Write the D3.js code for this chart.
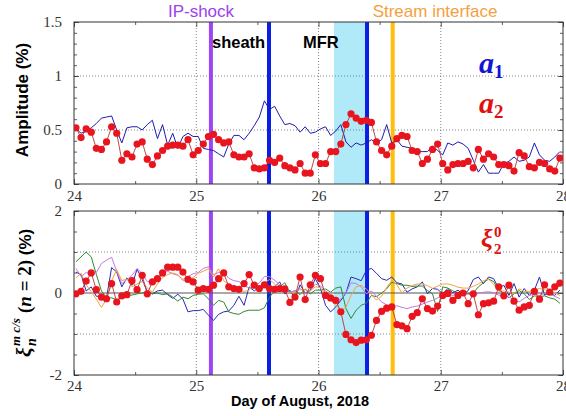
<!DOCTYPE html>
<html>
<head>
<meta charset="utf-8">
<script src="https://cdn.jsdelivr.net/npm/d3@7"></script>
<style>
  body { margin: 0; background: #fff; }
  svg { display: block; }
</style>
</head>
<body>
<div id="chart-area"></div>
<script>
// hourly samples, Aug 24 - Aug 28 2018
var hours = d3.range(96).map(function(i){ return 24.016 + i / 24; });

var a1 = [0.51,0.47,0.49,0.52,0.56,0.61,0.62,0.63,0.50,0.38,
          0.52,0.53,0.53,0.50,0.55,0.59,0.42,0.55,0.36,0.47,
          0.33,0.44,0.47,0.44,0.44,0.33,0.32,0.31,0.28,0.25,
          0.37,0.45,0.45,0.41,0.47,0.54,0.62,0.77,0.69,0.72,
          0.63,0.55,0.56,0.54,0.48,0.53,0.47,0.48,0.51,0.53,
          0.45,0.49,0.55,0.39,0.34,0.38,0.36,0.38,0.41,0.38,
          0.41,0.55,0.38,0.41,0.35,0.34,0.33,0.30,0.30,0.30,
          0.35,0.31,0.27,0.38,0.36,0.39,0.37,0.33,0.22,0.11,
          0.18,0.10,0.10,0.10,0.19,0.21,0.25,0.21,0.22,0.25,
          0.38,0.27,0.22,0.21,0.25,0.30];

var a2 = [0.52,0.43,0.51,0.48,0.33,0.32,0.39,0.53,0.47,0.22,
          0.28,0.25,0.37,0.39,0.23,0.18,0.26,0.31,0.35,0.36,
          0.36,0.35,0.41,0.27,0.31,0.37,0.44,0.46,0.41,0.38,
          0.39,0.27,0.25,0.25,0.28,0.15,0.14,0.15,0.22,0.20,
          0.24,0.17,0.15,0.13,0.19,0.10,0.10,0.27,0.19,0.19,
          0.30,0.30,0.37,0.55,0.65,0.61,0.58,0.59,0.57,0.39,
          0.31,0.27,0.35,0.42,0.45,0.44,0.31,0.30,0.19,0.23,
          0.32,0.37,0.19,0.13,0.18,0.19,0.19,0.21,0.15,0.32,
          0.23,0.28,0.25,0.18,0.18,0.17,0.12,0.29,0.26,0.16,
          0.15,0.20,0.19,0.14,0.12,0.24];

var xi20 = [-0.02,0.04,0.29,0.49,0.08,-0.10,-0.14,0.23,-0.22,-0.07,
            -0.04,0.30,0.08,0.43,-0.02,0.27,0.35,0.49,0.63,0.63,
            0.63,0.51,0.33,0.27,0.07,0.11,0.09,0.19,0.35,0.49,
            0.15,0.11,0.09,0.23,0.45,0.19,0.11,0.20,0.11,0.09,
            0.11,0.10,-0.23,-0.10,0.39,-0.16,0.20,0.43,0.35,-0.06,
            -0.12,-0.18,-0.46,-1.01,-1.14,-1.21,-1.15,-1.14,-1.03,-0.67,
            -0.45,-0.37,-0.34,-0.77,-0.80,-0.87,-0.57,-0.48,-0.14,-0.38,
            -0.44,-0.32,-0.06,-0.01,-0.18,-0.06,0.00,-0.26,-0.02,-0.53,
            -0.26,-0.24,-0.20,0.15,-0.07,0.19,-0.20,-0.42,-0.34,-0.30,
            0.04,-0.15,0.20,0.02,0.15,0.24];

var xiBlue = [0.51,0.45,0.05,0.15,-0.08,-0.08,-0.12,0.62,0.51,0.15,
              0.37,0.19,0.58,0.33,0.03,-0.02,0.05,0.07,-0.04,-0.13,
              -0.03,-0.15,-0.46,-0.43,-0.43,-0.40,-0.54,-0.67,-0.52,-0.46,
              -0.44,-0.30,-0.08,-0.30,0.15,0.05,0.15,0.20,0.05,0.15,
              0.27,-0.02,0.07,-0.14,0.20,0.00,0.07,0.35,0.11,-0.30,
              -0.46,-0.34,-0.18,0.00,0.39,0.35,0.30,0.55,0.60,0.48,
              0.35,0.31,0.39,0.25,0.22,0.02,0.10,0.15,0.27,-0.02,
              0.11,0.09,-0.02,0.11,0.00,0.07,-0.04,0.06,0.33,0.39,
              0.23,0.39,0.35,0.11,0.19,-0.06,0.23,-0.10,0.11,-0.06,
              0.07,0.39,-0.05,0.00,-0.06,0.07];

var xiGreen = [0.76,0.88,1.00,0.88,0.45,0.05,-0.12,-0.12,-0.16,-0.12,
               -0.06,-0.05,-0.02,0.00,0.02,-0.02,0.00,-0.04,-0.02,-0.10,
               -0.20,-0.10,-0.14,-0.06,-0.03,-0.02,-0.14,-0.30,-0.18,-0.22,
               -0.46,-0.50,-0.52,-0.45,-0.42,-0.42,-0.42,-0.36,-0.10,0.05,
               0.15,0.25,0.00,0.06,-0.04,0.10,-0.02,0.07,0.07,0.10,
               0.02,0.12,0.15,-0.38,-0.62,-0.42,-0.30,-0.25,-0.06,-0.09,
               0.00,0.10,0.26,0.23,0.19,0.19,0.16,0.17,0.17,0.06,
               -0.02,-0.45,0.15,0.12,0.05,-0.01,-0.02,-0.01,0.00,0.15,
               0.25,0.34,0.28,0.06,0.00,-0.12,-0.02,0.06,-0.02,-0.16,
               -0.07,-0.09,-0.07,-0.12,-0.15,-0.25];

var xiPurple = [0.60,0.40,0.50,0.45,0.50,0.72,0.80,0.87,0.53,0.23,
                0.33,0.43,0.60,0.47,0.28,0.28,0.32,0.48,0.53,0.47,
                0.43,0.33,0.40,0.47,0.50,0.60,0.64,0.45,0.50,0.50,
                0.36,0.30,0.28,0.18,0.12,0.15,0.25,0.40,0.40,0.31,
                0.20,0.12,0.02,0.05,0.11,0.01,0.05,0.22,0.17,0.05,
                -0.05,-0.22,-0.15,0.00,0.25,0.23,0.15,-0.02,0.05,-0.08,
                -0.22,-0.29,-0.34,-0.31,-0.35,-0.38,-0.34,-0.32,-0.27,-0.22,
                -0.18,-0.12,-0.06,-0.03,-0.06,-0.01,-0.01,-0.03,-0.06,-0.01,
                0.02,0.03,0.01,-0.05,-0.06,-0.10,-0.16,-0.22,-0.13,-0.06,
                -0.03,-0.06,-0.01,-0.03,-0.08,-0.14];

var xiOrange = [0.37,0.48,0.20,0.03,-0.15,-0.35,-0.15,0.30,0.57,0.30,
                0.34,0.15,0.22,0.28,0.12,0.02,0.22,0.38,0.45,0.49,
                0.45,0.30,0.30,0.38,0.48,0.53,0.59,0.39,0.59,0.30,
                0.20,0.05,0.05,0.04,0.07,0.19,0.15,0.25,0.33,0.22,
                0.10,0.04,0.00,0.02,0.08,0.08,0.05,0.15,0.13,-0.05,
                -0.18,-0.30,-0.42,-0.35,-0.06,0.15,0.19,0.10,-0.04,-0.17,
                -0.08,0.14,0.30,0.20,0.00,0.12,0.18,0.22,0.22,0.18,
                0.11,0.17,0.22,0.22,0.19,0.14,0.12,0.12,0.16,0.22,
                0.30,0.34,0.21,0.04,0.05,0.02,-0.01,0.10,0.04,0.04,
                0.08,0.11,0.08,0.04,0.01,-0.06];

var dayTicks = [24, 25, 26, 27, 28];
var ampTicks = [0, 0.5, 1, 1.5];
var xiTicks = [-2, 0, 2];

// event times (day of August)
var ipShock = 25.12;
var sheathEnd = 25.595;
var mfrSpan = [26.127, 26.397];
var streamInterface = 26.607;

var serif = "'Liberation Serif','DejaVu Serif',serif";
var sans = "'Liberation Sans',Arial,sans-serif";

var svg = d3.select("#chart-area").append("svg")
            .attr("width", 566)
            .attr("height", 416);

var x = d3.scaleLinear().domain([24, 28]).range([74, 563]);
var yTop = d3.scaleLinear().domain([0, 1.5]).range([184, 22]);
var yBot = d3.scaleLinear().domain([-2, 2]).range([375, 211]);

function panel(id, y, yTicks, yGrid, yMinorStep, xPad) {
  var x0 = x.range()[0], x1 = x.range()[1];
  var yb = y.range()[0], yt = y.range()[1];
  var g = svg.append("g");

  svg.append("clipPath").attr("id", id)
     .append("rect").attr("x", x0).attr("y", yt).attr("width", x1 - x0).attr("height", yb - yt);

  // MFR shading
  g.append("rect")
   .attr("x", x(mfrSpan[0])).attr("y", yt)
   .attr("width", x(mfrSpan[1]) - x(mfrSpan[0])).attr("height", yb - yt)
   .attr("fill", "#b0e9f8");

  // grid
  g.selectAll(".vg").data([25, 26, 27]).enter().append("line")
   .attr("x1", function(d){ return x(d); }).attr("x2", function(d){ return x(d); })
   .attr("y1", yt).attr("y2", yb)
   .attr("stroke", "#666").attr("stroke-width", 0.8).attr("stroke-dasharray", "1,2");
  g.selectAll(".hg").data(yGrid).enter().append("line")
   .attr("x1", x0).attr("x2", x1)
   .attr("y1", function(d){ return y(d); }).attr("y2", function(d){ return y(d); })
   .attr("stroke", "#666").attr("stroke-width", 0.8).attr("stroke-dasharray", "1,2");

  // event lines
  var ev = [[ipShock, "#9b45f5"], [sheathEnd, "#0a1ee6"], [mfrSpan[1], "#0a1ee6"], [streamInterface, "#ffbe0a"]];
  g.selectAll(".ev").data(ev).enter().append("line")
   .attr("x1", function(d){ return x(d[0]); }).attr("x2", function(d){ return x(d[0]); })
   .attr("y1", yt).attr("y2", yb)
   .attr("stroke", function(d){ return d[1]; }).attr("stroke-width", 4);

  // axes: ticks inward, labels outside
  var minorY = d3.range(y.domain()[0], y.domain()[1] + 1e-9, yMinorStep);
  var minorX = [24.5, 25.5, 26.5, 27.5];

  g.append("g").attr("transform", "translate(0," + yb + ")")
   .call(d3.axisBottom(x).tickValues(dayTicks).tickSize(-5).tickSizeOuter(0).tickPadding(xPad)
         .tickFormat(function(d){ return String(d); }));
  g.append("g").attr("transform", "translate(0," + yb + ")")
   .call(d3.axisBottom(x).tickValues(minorX).tickSize(-3).tickSizeOuter(0).tickFormat(""));
  g.append("g").attr("transform", "translate(0," + yt + ")")
   .call(d3.axisTop(x).tickValues(dayTicks).tickSize(-5).tickSizeOuter(0).tickFormat(""));
  g.append("g").attr("transform", "translate(0," + yt + ")")
   .call(d3.axisTop(x).tickValues(minorX).tickSize(-3).tickSizeOuter(0).tickFormat(""));
  g.append("g").attr("transform", "translate(" + x0 + ",0)")
   .call(d3.axisLeft(y).tickValues(yTicks).tickSize(-5).tickSizeOuter(0).tickPadding(12)
         .tickFormat(function(d){ return String(d); }));
  g.append("g").attr("transform", "translate(" + x0 + ",0)")
   .call(d3.axisLeft(y).tickValues(minorY).tickSize(-3).tickSizeOuter(0).tickFormat(""));
  g.append("g").attr("transform", "translate(" + x1 + ",0)")
   .call(d3.axisRight(y).tickValues(yTicks).tickSize(-5).tickSizeOuter(0).tickFormat(""));
  g.append("g").attr("transform", "translate(" + x1 + ",0)")
   .call(d3.axisRight(y).tickValues(minorY).tickSize(-3).tickSizeOuter(0).tickFormat(""));

  g.selectAll(".domain").remove();
  g.selectAll(".tick line").attr("stroke", "#333").attr("stroke-width", 0.8);
  g.selectAll(".tick text").attr("fill", "#333").style("font-family", serif).style("font-size", "15px");

  g.append("rect").attr("x", x0).attr("y", yt).attr("width", x1 - x0).attr("height", yb - yt)
   .attr("fill", "none").attr("stroke", "#333").attr("stroke-width", 1);

  return svg.append("g").attr("clip-path", "url(#" + id + ")");
}

function series(vals) {
  return vals.map(function(v, i){ return [hours[i], v]; });
}

// ---- top panel: amplitudes ----
var topG = panel("clipTop", yTop, ampTicks, [0.5, 1], 0.1, 6);
var lineTop = d3.line().x(function(d){ return x(d[0]); }).y(function(d){ return yTop(d[1]); });

topG.append("path").datum(series(a1)).attr("d", lineTop)
   .attr("fill", "none").attr("stroke", "#1c1cb0").attr("stroke-width", 1);
topG.append("path").datum(series(a2)).attr("d", lineTop)
   .attr("fill", "none").attr("stroke", "#b83232").attr("stroke-width", 0.9);
topG.selectAll("circle").data(series(a2)).enter().append("circle")
   .attr("cx", function(d){ return x(d[0]); })
   .attr("cy", function(d){ return yTop(d[1]); })
   .attr("r", 3.6).attr("fill", "#e8141e");

// ---- bottom panel: xi ----
var botG = panel("clipBot", yBot, xiTicks, [-1, 1], 0.5, 5);
botG.append("line").attr("x1", x(24)).attr("x2", x(28))
   .attr("y1", yBot(0)).attr("y2", yBot(0))
   .attr("stroke", "#555").attr("stroke-width", 1.2);

var lineBot = d3.line().x(function(d){ return x(d[0]); }).y(function(d){ return yBot(d[1]); });
var others = [[xiBlue, "#2828b4"], [xiGreen, "#2e8b2e"], [xiPurple, "#c07ae6"], [xiOrange, "#f7a040"]];
others.forEach(function(o){
  botG.append("path").datum(series(o[0])).attr("d", lineBot)
     .attr("fill", "none").attr("stroke", o[1]).attr("stroke-width", 1);
});
botG.append("path").datum(series(xi20)).attr("d", lineBot)
   .attr("fill", "none").attr("stroke", "#b83232").attr("stroke-width", 0.9);
botG.selectAll("circle").data(series(xi20)).enter().append("circle")
   .attr("cx", function(d){ return x(d[0]); })
   .attr("cy", function(d){ return yBot(d[1]); })
   .attr("r", 3.6).attr("fill", "#e8141e");

// ---- annotations ----
svg.append("text").attr("x", 201).attr("y", 17).attr("text-anchor", "middle")
   .style("font-family", sans).style("font-size", "17px").attr("fill", "#a040f0").text("IP-shock");
svg.append("text").attr("x", 435).attr("y", 17).attr("text-anchor", "middle")
   .style("font-family", sans).style("font-size", "17px").attr("fill", "#f5a040").text("Stream interface");
svg.append("text").attr("x", 212).attr("y", 48)
   .style("font-family", sans).style("font-size", "16.5px").style("font-weight", "bold").text("sheath");
svg.append("text").attr("x", 303).attr("y", 48)
   .style("font-family", sans).style("font-size", "16.5px").style("font-weight", "bold").text("MFR");

function mathLabel(xp, yp, color, sub) {
  var t = svg.append("text").attr("x", xp).attr("y", yp).attr("fill", color)
             .style("font-family", serif).style("font-weight", "bold");
  t.append("tspan").style("font-style", "italic").style("font-size", "30px").text("a");
  t.append("tspan").attr("dy", 5).style("font-size", "19px").text(sub);
}
mathLabel(479, 73, "#1414d2", "1");
mathLabel(479, 113, "#e01010", "2");

// xi_2^0 label, superscript and subscript stacked
svg.append("text").attr("x", 481).attr("y", 247).attr("fill", "#e01010")
   .style("font-family", serif).style("font-weight", "bold").style("font-style", "italic")
   .style("font-size", "26px").text("ξ");
svg.append("text").attr("x", 494).attr("y", 237).attr("fill", "#e01010")
   .style("font-family", serif).style("font-weight", "bold").style("font-size", "15px").text("0");
svg.append("text").attr("x", 494).attr("y", 254).attr("fill", "#e01010")
   .style("font-family", serif).style("font-weight", "bold").style("font-size", "15px").text("2");

// axis titles
svg.append("text").attr("transform", "translate(28,100) rotate(-90)").attr("text-anchor", "middle")
   .style("font-family", sans).style("font-size", "17px").style("font-weight", "bold")
   .text("Amplitude (%)");

var yl = svg.append("g").attr("transform", "translate(31,357) rotate(-90)");
yl.append("text").attr("x", 0).attr("y", 0)
  .style("font-family", serif).style("font-weight", "bold").style("font-style", "italic")
  .style("font-size", "21px").text("ξ");
yl.append("text").attr("x", 11).attr("y", 5)
  .style("font-family", serif).style("font-weight", "bold").style("font-style", "italic")
  .style("font-size", "14px").text("n");
yl.append("text").attr("x", 11).attr("y", -11)
  .style("font-family", serif).style("font-weight", "bold").style("font-style", "italic")
  .style("font-size", "13px").text("m c/s");
var yt2 = yl.append("text").attr("x", 44).attr("y", 0)
  .style("font-family", serif).style("font-weight", "bold").style("font-size", "19px");
yt2.append("tspan").text("(");
yt2.append("tspan").style("font-style", "italic").text("n");
yt2.append("tspan").text(" = 2) ");
yt2.append("tspan").style("font-family", sans).style("font-size", "17px").text("(%)");

svg.append("text").attr("x", 300).attr("y", 406).attr("text-anchor", "middle")
   .style("font-family", sans).style("font-size", "14.5px").style("font-weight", "bold")
   .text("Day of August, 2018");
</script>
</body>
</html>
